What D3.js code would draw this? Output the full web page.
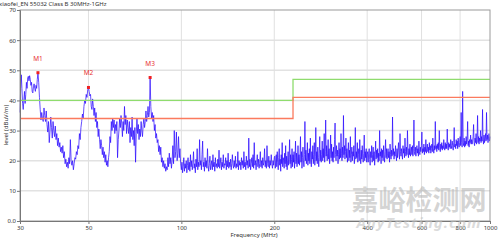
<!DOCTYPE html>
<html>
<head>
<meta charset="utf-8">
<script src="https://cdn.jsdelivr.net/npm/d3@7"></script>
<style>
    html, body { margin: 0; padding: 0; background: #fff; }
    svg { display: block; font-family: 'Noto Sans', sans-serif; }
</style>
</head>
<body>
<div id="chart"></div>
<script>
const title = 'xiaofei_EN 55032 Class B 30MHz-1GHz'
const xTicks = [30, 50, 100, 200, 400, 600, 800, 1000]
const yTicks = [0, 10, 20, 30, 40, 50, 60, 70]

// limit lines: [from MHz, to MHz, dBuV/m]
const limitLine = [[30, 230, 40], [230, 1000, 47]]
const marginLine = [[30, 230, 34], [230, 1000, 41]]

const markerNames = ['M1', 'M2', 'M3']
const markerFreq = [34.3, 50, 79.2]
const markerLevel = [49.2, 44.3, 47.6]

// sweep, in bands split at the markers: [start MHz, stop MHz]
const sweepBands = [[30, 34.3], [34.3, 50], [50, 79.2], [79.2, 100], [100, 200], [200, 400], [400, 1000]]

const levels30 = [36, 44, 48.5, 44, 39, 37, 40, 43, 39, 42, 46, 44, 47.5, 48, 46.5, 48.2, 47, 45, 46, 43,
    42.5, 44.5, 45.5, 44, 43, 45, 44, 47, 49.2]
const levels34 = [49.2, 46, 41, 37, 33.5, 36, 34, 33, 37.5, 35, 33, 36.5, 32, 29.5, 33, 26, 30, 34.5, 31, 27.5,
    33, 30, 28, 31.5, 27, 29, 25, 27.5, 24.5, 26, 23, 24.5, 22.5, 25, 21, 23, 19, 20.5, 18, 19.5,
    17.5, 21, 19, 27, 20, 18.5, 20, 17, 19, 21, 20.5, 23, 22, 25, 24, 29, 27, 31, 33, 35.5,
    34, 38, 40, 39, 42, 41, 43.5, 44.3]
const levels50 = [44.3, 43, 41.5, 42, 38, 37, 40.5, 38, 35, 37.5, 33, 36, 31, 33, 28, 30.5, 27, 24, 27, 25,
    22, 24.5, 21, 23, 19.5, 22, 18.5, 20, 18, 21, 23, 28, 26, 33, 30, 34, 31, 33.5, 29, 32,
    30, 33, 21, 27, 30, 34, 31, 35, 32.5, 28, 33, 30, 38, 32, 35, 29, 33.5, 31, 29, 33,
    26, 31, 28, 34.5, 27, 30, 25, 31, 19.5, 29, 34, 29, 32, 27, 30.5, 28, 33, 30, 28, 32,
    34, 31, 33, 36.5, 33, 35, 38, 34.5, 36, 47.6]
const levels79 = [47.6, 38, 34, 36, 33, 35, 30, 32, 27.5, 29, 26, 27, 23, 25, 22, 24.5, 19.5, 21, 18, 20,
    17.5, 19, 16.5, 18, 17, 21, 18, 22.5, 19, 21, 17.5, 20, 25, 19, 30, 21, 23, 29.5, 20, 22.5,
    28, 21, 24, 19, 17]
const levels100 = [17, 19.5, 16, 18, 21, 16.5, 19, 17.5, 20, 16,
    18.5, 21, 17, 19.5, 16.5, 22, 18, 20, 17, 19,
    23, 17.5, 19, 16, 20.5, 18, 24, 17, 19.5, 18,
    27, 18.5, 20, 17, 22, 26.5, 18, 19.5, 16.5, 21,
    18, 20, 17.5, 24, 18.5, 16.5, 19, 21.5, 17, 18.5,
    20, 17, 22, 18, 19.5, 16.5, 21, 18, 19, 17.5,
    20.5, 18, 23.5, 17.5, 19, 21, 17, 19.5, 18, 22,
    17.5, 19, 18.5, 21, 17, 20, 18, 22.5, 17.5, 19.5,
    18, 20.5, 17, 19, 22, 18.5, 17.5, 20, 18, 21.5,
    17.5, 19, 18, 23, 17, 20, 18.5, 19.5, 17, 21,
    18.5, 20, 17.5, 23, 18, 19.5, 17, 21.5, 18.5, 20,
    17.5, 27.5, 18, 20.5, 17, 19, 21, 18, 22, 17.5,
    26, 18.5, 20, 17, 19.5, 22, 18, 20.5, 17.5, 19,
    23, 18, 20, 17.5, 21, 18.5, 19.5, 24, 18, 20,
    17.5, 25, 19, 18, 21.5, 17.5, 20, 18.5, 22, 19,
    17.5, 20, 18.5, 21]
const levels200 = [21, 21.5, 17.5, 20, 22, 18, 23, 19.5, 17, 21,
    24, 18.5, 20.5, 16.5, 22, 19, 26, 18, 21, 20,
    17.5, 22.5, 19, 25, 18, 21.5, 17, 20, 23, 18.5,
    21, 27, 19, 22, 17.5, 20.5, 24, 18, 22, 19.5,
    23, 17.5, 21, 26.5, 19, 22.5, 18, 20, 25, 19,
    22, 18.5, 21.5, 28, 19.5, 23, 17.5, 21, 24.5, 20,
    18, 22, 33, 20, 23.5, 19, 21, 26, 18.5, 22.5,
    20, 24, 19, 27.5, 21, 18, 23, 20.5, 25, 19,
    22, 26, 18.5, 21.5, 31, 20, 23, 19, 24.5, 21,
    18, 22.5, 28, 20, 23.5, 19.5, 22, 26.5, 20, 24,
    21, 29, 19.5, 23, 33.5, 21.5, 25, 20, 22.5, 27,
    20.5, 24, 19, 22, 28.5, 21, 25.5, 20, 23, 19.5,
    24.5, 21, 27, 32.5, 22, 20, 25, 21.5, 23.5, 19,
    22, 26, 20.5, 24, 21, 29, 22.5, 20, 24.5, 21,
    35, 22, 25, 20.5, 23, 27.5, 21, 24, 19.5, 22.5,
    26, 20, 23.5, 21, 28, 19.5, 22, 24.5, 20, 23,
    21.5, 25, 19, 22.5, 31, 20.5, 23, 21, 26, 19.5,
    22, 24, 20, 27, 21.5, 19, 23.5, 20.5, 25, 21,
    19.5, 22.5, 28.5, 20, 23, 21, 24, 19.5, 22]
const levels400 = [22, 23, 19.5, 22.5, 24, 20.5, 18.5, 23, 21, 25,
    19.5, 22, 24.5, 20, 23, 18.5, 22, 26.5, 20.5, 23.5,
    21, 24, 19.5, 22.5, 20, 30, 21.5, 23, 19, 24,
    21, 23.5, 20, 25, 22, 19.5, 23, 27, 21, 24,
    20.5, 22.5, 24, 21, 23, 19.5, 25.5, 22, 20.5, 23.5,
    21.5, 34.5, 22, 24, 20.5, 23, 21.5, 25, 22, 20,
    24, 21, 23.5, 26, 22, 20.5, 29, 23, 21.5, 24,
    22, 20.5, 25, 22.5, 24, 21, 27.5, 23, 21.5, 24.5,
    22, 30, 23.5, 21, 24, 22, 25.5, 21.5, 23, 24.5,
    22, 25, 21.5, 24, 33.5, 23, 22, 24.5, 21.5, 23.5,
    25, 22.5, 24, 21.5, 26.5, 23, 22, 24.5, 23, 25,
    29.5, 22.5, 24, 23, 25.5, 22, 24.5, 23, 27, 22.5,
    24, 25.5, 23, 24.5, 22.5, 26, 23.5, 25, 22.5, 24,
    25.5, 23, 27.5, 24, 22.5, 25, 23.5, 33, 24, 25,
    23, 25.5, 24, 26, 23.5, 30, 24.5, 23, 25.5, 24,
    26, 23.5, 25, 24, 27, 24.5, 23.5, 26, 24, 25.5,
    24, 30.5, 25, 23.5, 26, 24.5, 25.5, 24, 27, 25,
    24, 26.5, 25, 23.5, 26, 31, 24.5, 25.5, 24, 27,
    25, 26.5, 24, 27.5, 25, 24.5, 26, 28, 25, 36,
    26, 24.5, 43, 26, 25, 27.5, 24.5, 26.5, 25, 28,
    25.5, 27, 33, 25, 26.5, 24.5, 27, 26, 28.5, 25.5,
    27, 25.5, 26.5, 28, 32, 26, 25, 27.5, 26, 29,
    25.5, 27, 35, 26, 28, 25.5, 27.5, 26.5, 30, 26,
    28, 26.5, 37, 27, 25.5, 28.5, 26, 27.5, 29, 26.5,
    36, 27, 28.5, 26, 27.5, 29, 26.5, 28]
const sweepLevels = [levels30, levels34, levels50, levels79, levels100, levels200, levels400]

const width = 500
const height = 240
const margin = { top: 10, right: 10, bottom: 19, left: 20 }

const x = d3.scaleLog()
    .domain([30, 1000])
    .range([margin.left, width - margin.right])
const y = d3.scaleLinear()
    .domain([0, 70])
    .range([height - margin.bottom, margin.top])

// spread each band's readings across its span on the log axis
const trace = sweepBands.flatMap(([f0, f1], k) => {
    const vals = sweepLevels[k]
    return vals.map((v, i) => ({ f: f0 * Math.pow(f1 / f0, i / (vals.length - 1)), v }))
})

const stepPoints = segs => segs.flatMap(([f0, f1, v]) => [{ f: f0, v }, { f: f1, v }])

const svg = d3.select('#chart').append('svg')
    .attr('width', width)
    .attr('height', height)

// grid
svg.append('g')
    .selectAll('line')
    .data(yTicks.slice(1, -1))
    .enter().append('line')
        .attr('x1', x(30)).attr('x2', x(1000))
        .attr('y1', d => y(d)).attr('y2', d => y(d))
        .style('stroke', '#e2e2e2')
        .style('stroke-width', '1.5px')

svg.append('g')
    .selectAll('line')
    .data(xTicks.slice(1, -1))
    .enter().append('line')
        .attr('x1', d => x(d)).attr('x2', d => x(d))
        .attr('y1', y(0)).attr('y2', y(70))
        .style('stroke', '#e0e0e0')
        .style('stroke-width', '1px')

const line = d3.line()
    .x(d => x(d.f))
    .y(d => y(d.v))

svg.append('path')
    .attr('d', line(trace))
    .style('fill', 'none')
    .style('stroke', '#2808ff')
    .style('stroke-opacity', 0.72)
    .style('stroke-width', '1px')
    .style('stroke-linejoin', 'round')

svg.append('path')
    .attr('d', line(stepPoints(limitLine)))
    .style('fill', 'none')
    .style('stroke', '#8fdc6e')
    .style('stroke-width', '1.3px')

svg.append('path')
    .attr('d', line(stepPoints(marginLine)))
    .style('fill', 'none')
    .style('stroke', '#fb7a5e')
    .style('stroke-width', '1.3px')

// markers
const markers = markerNames.map((name, i) => ({ name, f: markerFreq[i], v: markerLevel[i] }))

svg.append('g')
    .selectAll('rect')
    .data(markers)
    .enter().append('rect')
        .attr('x', d => x(d.f) - 1.5)
        .attr('y', d => y(d.v) - 1.5)
        .attr('width', 3)
        .attr('height', 3)
        .style('fill', '#f02020')

svg.append('g')
    .selectAll('text')
    .data(markers)
    .enter().append('text')
        .attr('x', d => x(d.f))
        .attr('y', d => y(d.v) - 12)
        .attr('text-anchor', 'middle')
        .style('font-size', '6.5px')
        .style('fill', '#e83030')
        .text(d => d.name)

// frame
svg.append('rect')
    .attr('x', x(30))
    .attr('y', y(70))
    .attr('width', x(1000) - x(30))
    .attr('height', y(0) - y(70))
    .style('fill', 'none')
    .style('stroke', '#9a9a9a')
    .style('stroke-width', '1px')

const yAxis = d3.axisLeft(y)
    .tickValues(yTicks)
    .tickSize(3)
    .tickFormat(d => d === 0 ? '0.0' : d)

const xAxis = d3.axisBottom(x)
    .tickValues(xTicks)
    .tickSize(3)
    .tickFormat(d3.format('d'))

const gy = svg.append('g')
    .attr('transform', 'translate(' + x(30) + ',0)')
    .call(yAxis)
const gx = svg.append('g')
    .attr('transform', 'translate(0,' + y(0) + ')')
    .call(xAxis)

for (const g of [gx, gy]) {
    g.select('.domain').style('stroke', '#777')
    g.selectAll('.tick line').style('stroke', '#777')
    g.selectAll('.tick text')
        .style('font-size', '6px')
        .style('font-family', "'Noto Sans', sans-serif")
        .style('fill', '#333')
}
gy.selectAll('.tick text').attr('x', -4)
gx.selectAll('.tick text').attr('y', 5)

svg.append('text')
    .attr('x', -1)
    .attr('y', 6)
    .style('font-size', '6px')
    .style('fill', '#333')
    .text(title)

svg.append('text')
    .attr('transform', 'translate(8,' + 125 + ') rotate(-90)')
    .attr('text-anchor', 'middle')
    .style('font-size', '6px')
    .style('fill', '#333')
    .text('level (dBuV/m)')

svg.append('text')
    .attr('x', 254)
    .attr('y', 237)
    .attr('text-anchor', 'middle')
    .style('font-size', '6px')
    .style('fill', '#333')
    .text('Frequency (MHz)')

// watermark
svg.append('text')
    .attr('x', 419)
    .attr('y', 210)
    .attr('text-anchor', 'middle')
    .style('font-family', "'Noto Sans CJK SC', sans-serif")
    .style('font-size', '27px')
    .style('font-weight', 'bold')
    .style('fill', '#b8b8b8')
    .style('fill-opacity', 0.6)
    .text('嘉峪检测网')

svg.append('text')
    .attr('x', 419)
    .attr('y', 228)
    .attr('text-anchor', 'middle')
    .style('font-size', '15px')
    .style('font-weight', 'bold')
    .style('font-style', 'italic')
    .style('letter-spacing', '1px')
    .style('fill', '#c4c4c4')
    .style('fill-opacity', 0.6)
    .text('AnyTesting.com')
</script>
</body>
</html>
